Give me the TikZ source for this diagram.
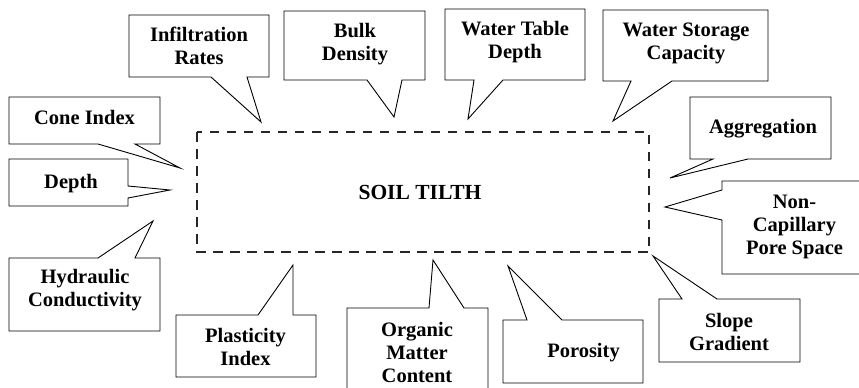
\documentclass[tikz,border=0pt]{standalone}
\usepackage{fontspec}
\setmainfont{Liberation Serif}
\begin{document}
\begin{tikzpicture}[x=1pt,y=-1pt,
  callout/.style={draw=black,line width=0.9pt,fill=white,line join=miter},
  lbl/.style={font=\bfseries\fontsize{20.5}{23}\selectfont,align=center,inner sep=0pt},
  tilth/.style={draw=black!85,line width=2.4pt,dash pattern=on 9.5pt off 7.5pt}]
\useasboundingbox (0,0) rectangle (859,388);
% central dashed box
\draw[tilth] (197,132) rectangle (649,252);
\node[lbl,font=\bfseries\fontsize{21.5}{24}\selectfont] (tilth) at (420,192) {SOIL TILTH};
% callout tips
\coordinate (tInf) at (261,122);
\coordinate (tBulk) at (394,117);
\coordinate (tWT) at (468,119);
\coordinate (tWS) at (613,121);
\coordinate (tCone) at (180,168);
\coordinate (tDepth) at (170,190);
\coordinate (tHyd) at (153,221);
\coordinate (tAgg) at (670,178);
\coordinate (tNon) at (665,207);
\coordinate (tPla) at (293,265);
\coordinate (tOrg) at (433,260);
\coordinate (tPor) at (508,266);
\coordinate (tSlope) at (653,256);
% Infiltration Rates
\draw[callout] (129,15) -- (269,15) -- (269,77) -- (247,77) -- (tInf) -- (211,77) -- (129,77) -- cycle;
\node[lbl] (inf) at (199,45.5) {Infiltration\\Rates};
% Bulk Density
\draw[callout] (284,11) -- (425,11) -- (425,80) -- (402,80) -- (tBulk) -- (367,80) -- (284,80) -- cycle;
\node[lbl] (bulk) at (355,44.5) {Bulk\\Density};
% Water Table Depth
\draw[callout] (445,9) -- (585,9) -- (585,80) -- (503,80) -- (tWT) -- (474,80) -- (445,80) -- cycle;
\node[lbl] (wt) at (515,42.5) {Water Table\\Depth};
% Water Storage Capacity
\draw[callout] (603,10) -- (768,10) -- (768,81) -- (672,81) -- (tWS) -- (631,81) -- (603,81) -- cycle;
\node[lbl] (ws) at (686,43.5) {Water Storage\\Capacity};
% Cone Index
\draw[callout] (9,97) -- (160,97) -- (160,144) -- (135,144) -- (tCone) -- (98,144) -- (9,144) -- cycle;
\node[lbl] (cone) at (84.5,117) {Cone Index};
% Depth
\draw[callout] (9,159) -- (128,159) -- (128,186) -- (tDepth) -- (128,198) -- (128,206) -- (9,206) -- cycle;
\node[lbl] (depth) at (71,184) {Depth};
% Hydraulic Conductivity
\draw[callout] (9,258) -- (98,258) -- (tHyd) -- (135,258) -- (160,258) -- (160,331) -- (9,331) -- cycle;
\node[lbl] (hyd) at (85,290.5) {Hydraulic\\Conductivity};
% Aggregation
\draw[callout] (690,97) -- (831,97) -- (831,159) -- (748,159) -- (tAgg) -- (713,159) -- (690,159) -- cycle;
\node[lbl] (agg) at (763,129) {Aggregation};
% Non-Capillary Pore Space
\draw[callout] (722,181) -- (865,181) -- (865,274) -- (722,274) -- (722,220) -- (tNon) -- (722,190) -- cycle;
\node[lbl] (non) at (794.5,227) {Non-\\Capillary\\Pore Space};
% Plasticity Index
\draw[callout] (176,315) -- (258,315) -- (tPla) -- (293,315) -- (316,315) -- (316,377) -- (176,377) -- cycle;
\node[lbl] (pla) at (245.5,346.5) {Plasticity\\Index};
% Organic Matter Content
\draw[callout] (347,308) -- (429,308) -- (tOrg) -- (464,308) -- (488,308) -- (488,395) -- (347,395) -- cycle;
\node[lbl] (org) at (417,352.5) {Organic\\Matter\\Content};
% Porosity
\draw[callout] (503,320) -- (527,320) -- (tPor) -- (562,320) -- (643,320) -- (643,383) -- (503,383) -- cycle;
\node[lbl] (por) at (583.5,353) {Porosity};
% Slope Gradient
\draw[callout] (659,299) -- (682,299) -- (tSlope) -- (717,299) -- (800,299) -- (800,362) -- (659,362) -- cycle;
\node[lbl] (slope) at (729,332) {Slope\\Gradient};
\end{tikzpicture}
\end{document}
